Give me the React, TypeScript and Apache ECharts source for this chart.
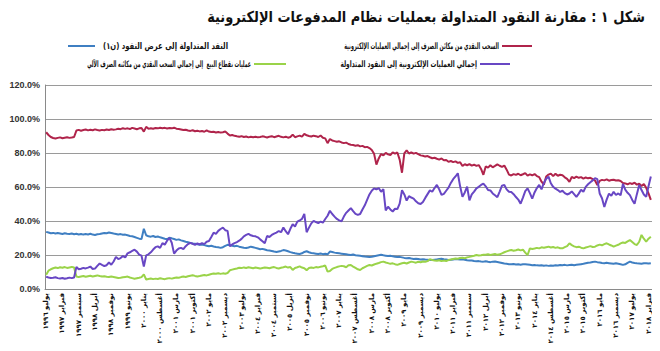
import React, { useEffect, useRef } from "react";
import * as echarts from "echarts";

// Arabic month names, axis starts July 1996 (monthly data)
const monthNames = ["يناير", "فبراير", "مارس", "أبريل", "مايو", "يونيو", "يوليو", "أغسطس", "سبتمبر", "أكتوبر", "نوفمبر", "ديسمبر"];
const startYear = 1996;
const startMonthIndex = 6;
const monthCount = 261;
const arabicDigits = "٠١٢٣٤٥٦٧٨٩";
const toArabic = (n: number) => String(n).replace(/\d/g, (d) => arabicDigits[+d]);
const categories: string[] = Array.from({ length: monthCount }, (_, i) => {
  const t = startMonthIndex + i;
  return monthNames[t % 12] + " " + toArabic(startYear + Math.floor(t / 12));
});

const yTicks = [0, 20, 40, 60, 80, 100, 120];

const titleText = "شكل ١ : مقارنة النقود المتداولة بعمليات نظام المدفوعات الإلكترونية";

const seriesNames = [
  "النقد المتداولة إلى عرض النقود (ن١)",
  "السحب النقدي من مكائن الصرف إلى إجمالي العمليات الإلكترونية",
  "عمليات نقطاع البيع  إلى إجمالي السحب النقدي من مكائنه الصرف الآلي",
  "إجمالي العمليات الإلكترونية إلى النقود المتداولة",
];

// currency in circulation / money supply (%)
const currencyToM1 = [
  33.6, 33.2, 32.8, 33.0, 32.6, 32.9,
  32.7, 32.4, 32.8, 32.5, 32.3, 32.6, 32.2, 32.5, 32.1, 32.4, 32.0, 32.3,
  32.1, 32.5, 32.0, 31.8, 32.2, 32.4, 32.7, 33.0, 32.8, 33.2, 32.9, 32.6,
  32.4, 32.1, 32.3, 31.9, 32.0, 31.6, 31.2, 31.0, 30.6, 30.1, 29.6, 29.4,
  35.4, 31.6, 31.0, 30.8, 31.2, 30.6, 30.9, 30.4, 30.0, 29.6, 29.3, 30.1,
  29.8, 29.4, 28.9, 29.2, 28.6, 28.2, 27.8, 27.5, 27.1, 26.8, 26.6, 26.3,
  26.0, 26.2, 25.8, 25.5, 25.2, 25.4, 25.0, 24.7, 24.5, 24.2, 24.6, 25.4,
  26.0, 25.8, 25.5, 25.2, 25.4, 24.9, 24.6, 24.3, 24.1, 24.4, 24.9, 24.6,
  24.2, 23.8, 23.4, 23.6, 23.2, 22.8, 22.6, 22.3, 22.0, 21.8, 22.1, 22.4,
  22.9, 22.6, 22.2, 21.7, 21.3, 21.0, 20.8, 20.6, 21.0, 21.8, 22.2, 21.6,
  21.2, 21.0, 20.8, 20.6, 20.9, 20.5, 20.7, 20.4, 22.0, 21.8, 21.4, 21.2,
  21.0, 20.8, 20.6, 20.4, 20.2, 20.0, 20.3, 19.9, 19.7, 19.5, 19.3, 19.1,
  19.0, 18.8, 19.0, 19.3, 19.6, 19.9, 20.1, 19.8, 19.6, 19.4, 19.5, 19.2,
  19.0, 18.8, 18.9, 18.6, 18.3, 18.1, 18.2, 17.9, 17.7, 17.8, 17.6, 17.4,
  17.5, 17.3, 17.2, 17.1, 17.0, 17.2, 17.4, 17.6, 17.8, 17.5, 17.3, 17.1,
  17.2, 17.4, 17.6, 17.5, 17.3, 17.5, 17.2, 16.9, 16.7, 16.8, 16.5, 16.3,
  16.4, 16.2, 16.1, 16.3, 16.0, 15.8, 16.1, 16.2, 15.9, 15.6, 15.3, 15.0,
  14.8, 14.6, 14.5, 14.7, 14.4, 14.6, 14.3, 14.5, 14.6, 14.4, 14.2, 14.0,
  14.1, 13.9, 13.8, 14.0, 13.7, 13.9, 13.6, 13.8, 13.7, 14.0, 13.8, 14.1,
  14.0, 14.2, 13.9, 14.1, 14.3, 14.0, 14.2, 14.4, 14.6, 14.8, 15.1, 15.4,
  15.6, 15.9, 16.1, 15.8, 15.6, 15.3, 15.1, 15.4, 15.2, 15.0, 14.8, 15.1,
  14.9, 14.6, 14.2, 14.5, 15.4, 16.1, 15.6, 15.3, 15.1, 15.0, 14.9, 15.2,
  15.1, 15.0, 15.2,
];

// ATM cash withdrawal / total electronic operations (%)
const atmToElectronic = [
  92.2, 90.6, 89.4, 88.8, 88.5, 88.9,
  89.2, 88.7, 89.0, 89.3, 88.9, 89.1, 89.4, 93.2, 93.6, 93.1, 93.5, 93.8,
  93.3, 93.7, 93.4, 93.9, 93.5, 93.2, 93.6, 93.4, 93.8, 93.5, 94.0, 93.7,
  93.9, 94.3, 94.0, 94.6, 94.2, 94.5, 94.1, 94.8, 94.4, 94.0, 94.5, 94.7,
  92.6, 95.4, 94.2, 94.6, 94.3, 94.7, 94.5, 94.9, 94.6, 94.8, 94.4, 94.7,
  94.5, 94.9, 94.3, 94.1, 93.8, 93.5, 93.7, 93.2, 93.0, 93.4, 92.8, 93.1,
  92.7, 92.9, 92.5, 93.3, 92.6, 92.3, 92.5, 92.1, 92.4, 92.0, 92.2, 92.6,
  91.4, 90.3, 90.6, 90.1, 89.8, 89.6, 89.9, 89.4, 89.7, 89.2, 89.5, 89.3,
  89.6, 89.2, 89.4, 89.8, 89.5, 89.1, 89.6, 89.9, 89.3, 89.7, 90.1, 89.5,
  89.2, 89.6, 89.0, 89.4, 90.8, 89.3, 89.8, 90.2, 89.6, 91.3, 90.4, 90.0,
  89.7, 90.2, 89.9, 89.4, 90.3, 89.0, 88.6, 85.8, 88.2, 87.4, 87.0, 86.6,
  86.9, 86.2, 85.8, 86.1, 85.3, 84.9, 84.7, 84.3, 84.6, 83.9, 84.2, 83.4,
  83.6, 82.9, 81.8, 79.5, 73.2, 76.8, 79.4, 78.6, 80.1, 79.2, 78.8, 80.4,
  79.6, 80.3, 76.1, 68.4, 79.8, 81.6, 79.7, 80.4, 79.6, 80.1, 79.3, 78.6,
  78.4, 77.9, 78.2, 77.5, 76.9, 77.2, 76.6, 76.1, 76.8, 75.7, 75.9, 74.8,
  75.3, 74.6, 75.1, 74.2, 74.6, 72.3, 73.4, 72.8, 73.5, 72.6, 73.1, 72.4,
  72.9, 70.6, 67.2, 72.1, 71.4, 72.8, 71.6, 72.4, 73.3, 72.5, 71.8, 72.6,
  70.2, 67.3, 66.8, 67.6, 67.1, 67.8, 66.9, 67.5, 68.2, 66.7, 67.4, 66.9,
  67.6, 66.4, 65.8, 63.1, 61.4, 66.2, 67.3, 67.9, 66.4, 67.8, 66.6, 67.2,
  66.9, 65.7, 64.8, 63.0, 65.9, 65.2, 66.1, 65.4, 65.8, 64.9, 65.6, 65.1,
  65.4, 64.6, 63.8, 61.2, 63.6, 64.2, 63.9, 64.5, 63.7, 64.1, 64.3, 63.8,
  64.0, 63.5, 62.4, 62.1, 61.6, 62.3, 61.8, 62.5, 61.4, 62.0, 60.6, 61.8,
  59.5, 56.2, 52.4,
];

// POS operations / ATM cash withdrawal (%)
const posToAtm = [
  8.4, 10.8, 11.6, 12.2, 12.6, 12.3,
  12.8, 12.5, 12.9, 12.4, 12.7, 13.0, 12.6, 7.4, 7.0, 7.3, 7.6, 7.2,
  7.5, 7.8, 7.4, 7.7, 8.0, 7.6, 7.3, 7.5, 7.2, 7.0, 7.3, 7.1,
  6.8, 6.5, 6.6, 6.9, 7.1, 7.3, 6.8, 6.4, 6.0, 6.3, 6.6, 7.0,
  8.6, 5.6, 5.9, 6.2, 5.8, 6.1, 5.9, 6.3, 6.0, 5.8, 6.2, 6.4,
  6.1, 6.5, 6.8, 6.6, 7.0, 7.3, 7.1, 7.5, 7.8, 8.1, 7.7, 7.4,
  7.6, 7.9, 8.2, 8.0, 8.4, 8.8, 9.1, 9.0, 9.3, 8.9, 9.2, 9.0,
  9.4, 11.0, 11.4, 11.8, 12.1, 12.5, 12.3, 12.7, 12.4, 12.8, 12.5, 12.2,
  12.6, 12.3, 12.0, 12.4, 12.7, 12.5, 12.2, 12.6, 12.9, 12.4, 12.1, 12.5,
  12.8, 13.2, 12.6, 12.9, 11.2, 12.4, 12.8, 13.3, 12.6, 12.2, 11.1, 12.3,
  12.6, 12.4, 12.9, 12.7, 13.1, 13.4, 13.8, 10.2, 10.6, 11.8, 12.4, 12.9,
  13.3, 13.6, 13.4, 12.8, 14.0, 14.1, 13.2, 12.4, 11.6, 11.2, 12.2, 12.9,
  13.6, 14.1, 13.8, 14.4, 14.9, 15.3, 15.8, 16.1, 15.6, 15.2, 14.8, 15.1,
  14.6, 14.2, 14.7, 15.1, 15.4, 15.0, 15.6, 16.1, 15.8, 15.5, 16.0, 15.7,
  16.2, 16.0, 16.4, 17.5, 17.1, 16.8, 16.6, 16.9, 16.4, 16.7, 16.5, 17.0,
  17.3, 17.6, 17.9, 17.8, 18.2, 18.4, 18.1, 18.6, 18.9, 19.3, 19.6, 20.0,
  19.7, 19.9, 20.2, 20.1, 20.4, 20.0, 20.3, 20.6, 20.1, 20.4, 21.0, 21.6,
  22.1, 22.6, 22.9, 22.5, 22.8, 23.2, 22.7, 23.1, 21.4, 20.0, 23.9, 23.5,
  23.8, 24.2, 23.9, 24.5, 24.3, 24.6, 24.9, 24.4, 24.7, 24.2, 24.5, 24.0,
  23.9, 24.6, 25.2, 26.9, 25.8, 25.1, 24.6, 24.9, 24.3, 23.9, 24.4, 24.8,
  25.2, 24.7, 24.9, 25.6, 26.1, 25.7, 26.4, 26.9, 26.2, 25.6, 24.9, 25.5,
  26.0, 26.8, 27.4, 27.1, 28.0, 28.8, 27.6, 26.4, 25.9, 27.8, 31.8, 29.6,
  27.8, 29.6, 30.8,
];

// total electronic operations / currency in circulation (%)
const electronicToCurrency = [
  7.2, 6.8, 6.5, 6.6, 6.9, 6.4,
  6.2, 6.5, 6.0, 6.3, 6.7, 6.4, 6.8, 13.0, 11.6, 11.9, 12.4, 12.1,
  12.6, 13.2, 11.8, 12.0, 13.6, 15.0, 14.2, 13.5, 14.0, 15.6, 14.3, 16.2,
  18.9, 17.6, 18.2, 19.4, 18.6, 21.0, 21.6, 22.4, 23.1, 22.0, 20.2, 19.6,
  13.2, 19.8, 20.4, 21.6, 23.2, 24.6, 25.1, 24.2, 27.0, 26.1, 28.4, 30.1,
  27.2, 20.8, 22.6, 23.8, 24.2, 23.5, 25.2, 26.4, 27.1, 26.6, 26.0, 26.8,
  26.2, 27.0, 26.4, 27.8, 28.2, 30.6, 33.1, 32.4, 34.2, 35.3, 36.1, 34.6,
  34.2, 25.1, 26.2, 27.0, 27.6, 28.4, 29.5, 31.0, 31.8, 32.4, 31.6, 31.2,
  31.0, 30.4, 29.2, 28.1, 27.0, 31.2, 30.6, 31.8, 32.6, 33.2, 34.1, 33.4,
  36.2, 34.0, 32.2, 35.4, 38.1, 36.8, 39.6, 40.3, 41.2, 44.2, 33.4, 36.1,
  38.6, 40.1, 39.4, 38.8, 39.6, 39.0, 41.2, 43.1, 46.0, 44.1, 42.6, 41.2,
  40.4, 39.8, 42.6, 44.8, 46.2, 47.6, 45.8, 44.2, 43.6, 44.1, 46.8, 49.2,
  52.4, 55.6, 57.8, 59.2, 58.6, 59.4, 57.2, 58.8, 46.2, 48.4, 46.8, 45.6,
  47.2, 47.0, 50.2, 58.1, 55.6, 52.0, 54.6, 53.8, 53.2, 51.6, 50.4, 50.0,
  51.2, 53.6, 55.8, 58.0, 57.2, 59.4, 61.2, 58.6, 55.4, 56.0, 57.8, 59.6,
  62.4, 64.6, 66.2, 68.1, 60.4, 54.2, 56.8, 60.2, 52.1, 55.6, 57.3, 59.2,
  60.1, 61.2, 62.0, 60.4, 58.2, 58.0, 56.2, 55.1, 54.0, 57.3, 60.8, 61.2,
  58.6, 57.2, 57.0, 55.8, 54.1, 52.6, 50.2, 53.8, 57.6, 59.2, 56.4, 53.1,
  56.8, 59.4, 61.2, 58.6, 62.4, 64.8, 66.1, 62.2, 60.1, 59.0, 58.2, 57.1,
  57.8, 56.4, 55.6, 56.2, 57.4, 55.8, 54.2, 56.1, 58.4, 57.2, 60.1, 61.6,
  62.8, 63.9, 65.2, 64.6, 56.2, 53.4, 48.2, 52.6, 56.1, 54.8, 57.2, 55.3,
  56.2, 55.1, 61.8, 58.4, 56.6, 55.2, 52.4, 50.1, 55.8, 61.2, 58.2, 55.6,
  54.2, 60.4, 66.2,
];

const seriesColors = ["#3f7fc2", "#b0244b", "#9ad349", "#6847c4"];
const seriesData = [currencyToM1, atmToElectronic, posToAtm, electronicToCurrency];

const AR_FONT = "DejaVu Sans";

// legend layout: [lineX1, lineX2, y, textAnchorX, align, targetTextWidth]
const legendLayout: [number, number, number, number, "left" | "right", number][] = [
  [68, 95, 46, 103, "left", 125],
  [502, 532, 46, 499, "right", 155],
  [254, 286, 64, 251, "right", 164],
  [480, 510, 64, 477, "right", 137],
];

function measure(text: string, font: string): number {
  const c = document.createElement("canvas").getContext("2d");
  if (!c) return text.length * 6;
  c.font = font;
  return c.measureText(text).width || text.length * 6;
}

export default function App() {
  const ref = useRef<HTMLDivElement>(null);
  useEffect(() => {
    if (!ref.current) return;
    const chart = echarts.init(ref.current, null, { renderer: "svg" });
    const titleFont = `bold 15px "${AR_FONT}"`;
    const titleScale = Math.min(1, 438 / measure(titleText, titleFont));
    const graphics: any[] = [
      {
        type: "text",
        x: 645,
        y: 17,
        scaleX: titleScale,
        style: {
          text: titleText,
          font: titleFont,
          fill: "#111",
          align: "right",
          verticalAlign: "middle",
        },
      },
    ];
    const legendFont = `bold 9px "${AR_FONT}"`;
    legendLayout.forEach(([x1, x2, y, tx, align, w], i) => {
      graphics.push({
        type: "line",
        shape: { x1, y1: y, x2, y2: y },
        style: { stroke: seriesColors[i], lineWidth: 2 },
      });
      graphics.push({
        type: "text",
        x: tx,
        y,
        scaleX: Math.min(1, w / measure(seriesNames[i], legendFont)),
        style: {
          text: seriesNames[i],
          font: legendFont,
          fill: "#111",
          align,
          verticalAlign: "middle",
        },
      });
    });
    chart.setOption({
      animation: false,
      backgroundColor: "#ffffff",
      graphic: graphics,
      grid: { left: 45, right: 8, top: 85, bottom: 62, containLabel: false },
      xAxis: {
        type: "category",
        data: categories,
        boundaryGap: true,
        axisLine: { lineStyle: { color: "#8a8a8a", width: 1 } },
        axisTick: { interval: 6, length: 4, lineStyle: { color: "#8a8a8a" } },
        axisLabel: {
          interval: 6,
          rotate: 90,
          fontSize: 7,
          fontWeight: "bold",
          fontFamily: AR_FONT,
          color: "#111",
          margin: 4,
        },
        splitLine: { show: false },
      },
      yAxis: {
        type: "value",
        min: 0,
        max: yTicks[yTicks.length - 1],
        interval: 20,
        axisLine: { show: true, lineStyle: { color: "#8a8a8a" } },
        axisTick: { show: false },
        axisLabel: {
          formatter: (v: number) => v.toFixed(1) + "%",
          fontSize: 9,
          fontWeight: "bold",
          fontFamily: "Liberation Sans",
          color: "#333",
          margin: 5,
        },
        splitLine: { lineStyle: { color: "#9a9a9a", width: 1 } },
      },
      series: seriesData.map((d, i) => ({
        type: "line",
        name: seriesNames[i],
        data: d,
        showSymbol: false,
        symbol: "none",
        lineStyle: { width: 2, color: seriesColors[i] },
        itemStyle: { color: seriesColors[i] },
        z: i === 3 ? 3 : 2,
      })),
    });
    return () => chart.dispose();
  }, []);
  return <div ref={ref} style={{ width: 660, height: 351, margin: -8 }} />;
}
